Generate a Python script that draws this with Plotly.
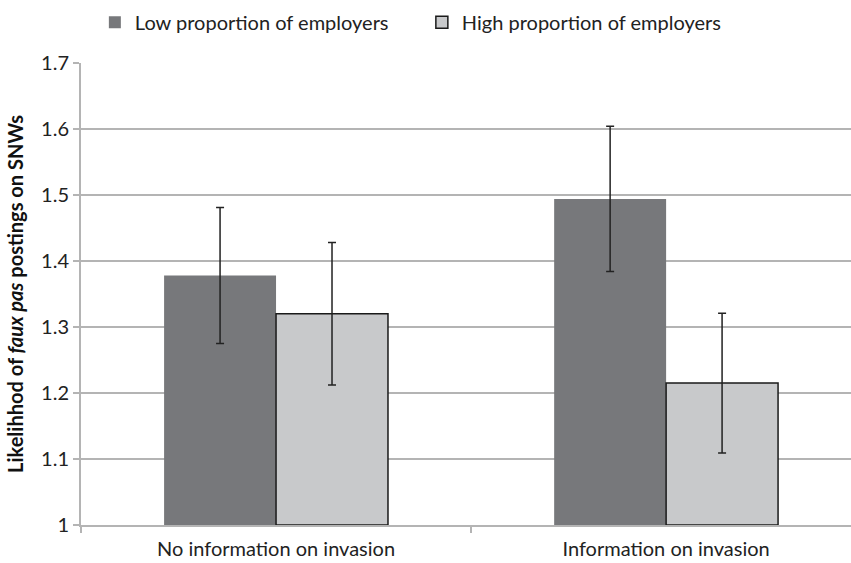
import plotly.graph_objects as go

categories = ["No information on invasion", "Information on invasion"]
series_names = ["Low proportion of employers", "High proportion of employers"]
low_values = [1.378, 1.494]
low_errors = [0.103, 0.110]
high_values = [1.320, 1.215]
high_errors = [0.108, 0.106]
y_ticks = [1.0, 1.1, 1.2, 1.3, 1.4, 1.5, 1.6, 1.7]
y_tick_labels = ["1", "1.1", "1.2", "1.3", "1.4", "1.5", "1.6", "1.7"]

FONT = "Lato"
GRID = "#b4b4b4"
TXT = "#222222"

fig = go.Figure()
fig.add_trace(go.Bar(
    name=series_names[0], x=categories, y=[v - 1 for v in low_values], base=1,
    marker=dict(color="#77787b", line=dict(width=0)),
    error_y=dict(type="data", array=low_errors, color="#222222", thickness=1.5, width=4),
))
fig.add_trace(go.Bar(
    name=series_names[1], x=categories, y=[v - 1 for v in high_values], base=1,
    marker=dict(color="#c8c9cb", line=dict(width=1.5, color="#1a1a1a")),
    error_y=dict(type="data", array=high_errors, color="#222222", thickness=1.5, width=4),
))

fig.update_layout(
    width=851, height=563,
    margin=dict(l=81, r=0, t=63, b=38),
    paper_bgcolor="white", plot_bgcolor="white",
    barmode="group", bargap=0.426, bargroupgap=0,
    font=dict(family=FONT, size=20, color=TXT),
    legend=dict(orientation="h", x=0.018, xanchor="left", y=1.088, yanchor="middle",
                font=dict(family=FONT, size=20, color=TXT),
                itemwidth=30, traceorder="normal",
                entrywidth=282, entrywidthmode="pixels"),
    showlegend=True,
)
fig.update_xaxes(
    type="category", range=[-0.5, 1.474],
    showline=True, linecolor=GRID, linewidth=2,
    ticks="outside", tickson="boundaries", ticklen=6, tickcolor=GRID, tickwidth=1.5,
    ticklabelstandoff=5,
    showgrid=False, tickfont=dict(family=FONT, size=20, color=TXT),
)
fig.update_yaxes(
    range=[1.0, 1.7], tickvals=y_ticks, ticktext=y_tick_labels,
    showline=True, linecolor=GRID, linewidth=2,
    ticks="outside", ticklen=6, tickcolor=GRID, tickwidth=1.5,
    showgrid=True, gridcolor=GRID, gridwidth=1.5, zeroline=False,
    tickfont=dict(family=FONT, size=20, color=TXT),
    title=dict(text="<b>Likelihhod of <i>faux pas</i> postings on SNWs</b>",
               font=dict(family=FONT, size=20, color="#111111"), standoff=12),
)

fig.write_html("out.html")
